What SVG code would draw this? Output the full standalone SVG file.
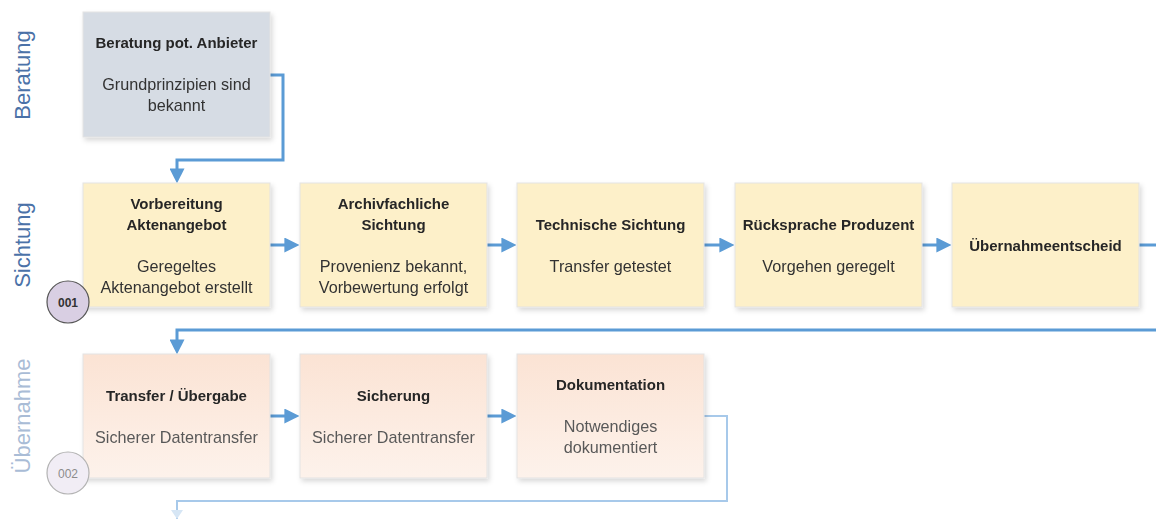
<svg xmlns="http://www.w3.org/2000/svg" width="1156" height="519" viewBox="0 0 1156 519">
<defs>
<style>
.t{font-family:"Liberation Sans",Arial,sans-serif;font-size:15px;font-weight:bold;fill:#262626;text-anchor:middle}
.s{font-family:"Liberation Sans",Arial,sans-serif;font-size:16.2px;fill:#333;text-anchor:middle}
.s2{font-family:"Liberation Sans",Arial,sans-serif;font-size:16.2px;fill:#595959;text-anchor:middle}
.lane{font-family:"Liberation Sans",Arial,sans-serif;font-size:22px;fill:#4b72a8;text-anchor:middle}
.c{fill:none;stroke:#5b9bd5;stroke-width:3}
.box{stroke:#e3e3e3;stroke-width:1}
</style>
<linearGradient id="peach" x1="0" y1="0" x2="0" y2="1">
<stop offset="0" stop-color="#fbe3d4"/>
<stop offset="1" stop-color="#fdf2eb"/>
</linearGradient>
<filter id="sh" x="-10%" y="-10%" width="125%" height="125%">
<feDropShadow dx="2" dy="3" stdDeviation="2.5" flood-color="#000" flood-opacity="0.15"/>
</filter>
<marker id="ah" markerWidth="5" markerHeight="5" refX="3.2" refY="2.5" orient="auto" markerUnits="strokeWidth" viewBox="0 0 5 5">
<path d="M0,0 L5,2.5 L0,5 Z" fill="#5b9bd5"/>
</marker>
</defs>
<rect width="1156" height="519" fill="#fff"/>

<g id="lanes">
<text class="lane" transform="translate(30,75) rotate(-90)">Beratung</text>
<text class="lane" transform="translate(30,245) rotate(-90)">Sichtung</text>
<text class="lane" transform="translate(30,416) rotate(-90)" style="fill:#a9bcd6">Übernahme</text>
</g>

<g id="connectors">
<path class="c" d="M270,75 H283 V160 H177 V178" marker-end="url(#ah)"/>
<path class="c" d="M270,245 H294" marker-end="url(#ah)"/>
<path class="c" d="M487,245 H511" marker-end="url(#ah)"/>
<path class="c" d="M704,245 H729" marker-end="url(#ah)"/>
<path class="c" d="M922,245 H946" marker-end="url(#ah)"/>
<path class="c" d="M1139,245 H1156"/>
<path class="c" d="M1156,330 H177 V349" marker-end="url(#ah)"/>
<path class="c" d="M270,416 H294" marker-end="url(#ah)"/>
<path class="c" d="M487,416 H511" marker-end="url(#ah)"/>
<path d="M704,416 H727 V501 H177 V519" fill="none" stroke="#a7c9ea" stroke-width="2"/>
<path d="M171,510 L177,519 L183,510 Z" fill="#d6e6f5"/>
</g>

<g id="n-beratung" filter="url(#sh)">
<rect class="box" x="83" y="12" width="187" height="125" fill="#d6dce4"/>
<text class="t" x="176.5" y="48">Beratung pot. Anbieter</text>
<text class="s" x="176.5" y="90">Grundprinzipien sind</text>
<text class="s" x="176.5" y="111">bekannt</text>
</g>

<g id="n-vorbereitung" filter="url(#sh)">
<rect class="box" x="83" y="183" width="187" height="124" fill="#fdf0c9"/>
<text class="t" x="176.5" y="209">Vorbereitung</text>
<text class="t" x="176.5" y="230">Aktenangebot</text>
<text class="s" x="176.5" y="272">Geregeltes</text>
<text class="s" x="176.5" y="293">Aktenangebot erstellt</text>
</g>

<g id="n-archiv" filter="url(#sh)">
<rect class="box" x="300" y="183" width="187" height="124" fill="#fdf0c9"/>
<text class="t" x="393.5" y="209">Archivfachliche</text>
<text class="t" x="393.5" y="230">Sichtung</text>
<text class="s" x="393.5" y="272">Provenienz bekannt,</text>
<text class="s" x="393.5" y="293">Vorbewertung erfolgt</text>
</g>

<g id="n-technisch" filter="url(#sh)">
<rect class="box" x="517" y="183" width="187" height="124" fill="#fdf0c9"/>
<text class="t" x="610.5" y="230">Technische Sichtung</text>
<text class="s" x="610.5" y="272">Transfer getestet</text>
</g>

<g id="n-ruecksprache" filter="url(#sh)">
<rect class="box" x="735" y="183" width="187" height="124" fill="#fdf0c9"/>
<text class="t" x="828.5" y="230">Rücksprache Produzent</text>
<text class="s" x="828.5" y="272">Vorgehen geregelt</text>
</g>

<g id="n-entscheid" filter="url(#sh)">
<rect class="box" x="952" y="183" width="187" height="124" fill="#fdf0c9"/>
<text class="t" x="1045.5" y="251">Übernahmeentscheid</text>
</g>

<g id="n-transfer" filter="url(#sh)">
<rect class="box" x="83" y="354" width="187" height="124" fill="url(#peach)"/>
<text class="t" x="176.5" y="401">Transfer / Übergabe</text>
<text class="s2" x="176.5" y="443">Sicherer Datentransfer</text>
</g>

<g id="n-sicherung" filter="url(#sh)">
<rect class="box" x="300" y="354" width="187" height="124" fill="url(#peach)"/>
<text class="t" x="393.5" y="401">Sicherung</text>
<text class="s2" x="393.5" y="443">Sicherer Datentransfer</text>
</g>

<g id="n-doku" filter="url(#sh)">
<rect class="box" x="517" y="354" width="187" height="124" fill="url(#peach)"/>
<text class="t" x="610.5" y="390">Dokumentation</text>
<text class="s2" x="610.5" y="432">Notwendiges</text>
<text class="s2" x="610.5" y="453">dokumentiert</text>
</g>

<g id="badge-001">
<circle cx="68" cy="302" r="21" fill="#d9cfe3" stroke="#555" stroke-width="1.2"/>
<text x="68" y="306.5" text-anchor="middle" font-family="Liberation Sans, Arial, sans-serif" font-size="12" font-weight="bold" fill="#333">001</text>
</g>
<g id="badge-002">
<circle cx="68" cy="473" r="21" fill="#f1edf5" stroke="#b3b3b3" stroke-width="1.2"/>
<text x="68" y="477.5" text-anchor="middle" font-family="Liberation Sans, Arial, sans-serif" font-size="12" fill="#8c8c8c">002</text>
</g>
</svg>
